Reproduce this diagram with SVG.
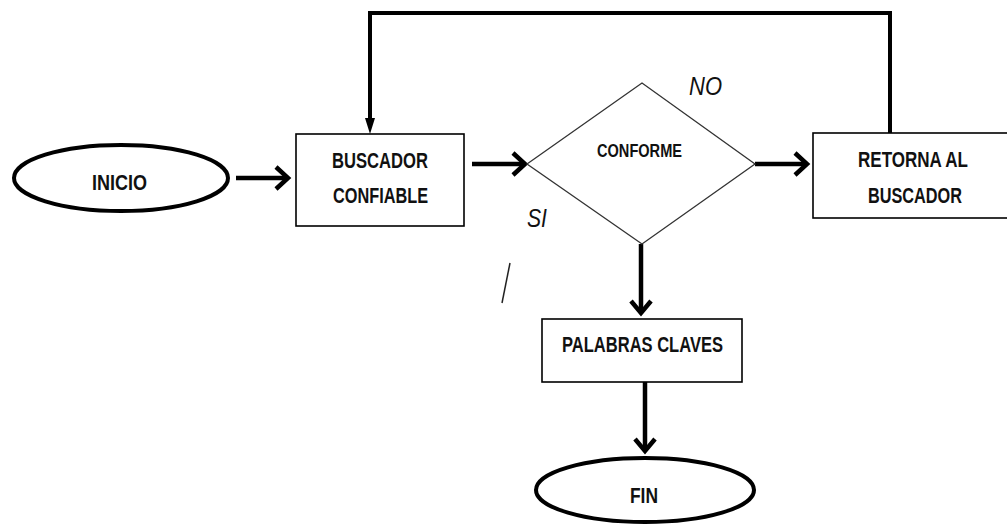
<svg xmlns="http://www.w3.org/2000/svg" width="1007" height="527" viewBox="0 0 1007 527">
<defs>
<style>
.term{fill:#fff;stroke:#000;stroke-width:4}
.box{fill:#fff;stroke:#000;stroke-width:1.6}
.dia{fill:#fff;stroke:#333;stroke-width:1.3}
.lbl{font-family:"Liberation Sans",Arial,sans-serif;font-weight:bold;fill:#111;font-size:21.5px}
.it{font-family:"Liberation Sans",Arial,sans-serif;font-style:italic;fill:#111;font-size:26px}
.ln{fill:none;stroke:#000;stroke-width:4.5}
.hd{fill:none;stroke:#000;stroke-width:4.5;stroke-linejoin:miter}
</style>
</defs>
<rect width="1007" height="527" fill="#fff"/>
<g id="connectors">
<path class="ln" d="M236,178 H286"/>
<path class="hd" d="M276,167 L288,178 L276,189"/>
<path class="ln" d="M472,164 H523"/>
<path class="hd" d="M513,153 L525,164 L513,175"/>
<path class="ln" d="M755,164 H805"/>
<path class="hd" d="M795,153 L807,164 L795,175"/>
<path class="ln" d="M641,244 V311"/>
<path class="hd" d="M631,301 L641,313 L651,301"/>
<path class="ln" d="M645,382 V449"/>
<path class="hd" d="M635,439 L645,451 L655,439"/>
<path fill="none" stroke="#000" stroke-width="4" d="M890,133 V13 H370 V120"/>
<path fill="#000" d="M365,118 L375,118 L370,134 Z"/>
<line x1="510" y1="263" x2="502" y2="303" stroke="#222" stroke-width="1.5"/>
</g>
<g id="inicio">
<ellipse class="term" cx="121" cy="178" rx="107" ry="33"/>
<text class="lbl" x="92" y="190" textLength="55" lengthAdjust="spacingAndGlyphs">INICIO</text>
</g>
<g id="buscador">
<rect class="box" x="296" y="134" width="168" height="92"/>
<text class="lbl" x="332" y="168" textLength="96" lengthAdjust="spacingAndGlyphs">BUSCADOR</text>
<text class="lbl" x="333" y="203" textLength="95" lengthAdjust="spacingAndGlyphs">CONFIABLE</text>
</g>
<g id="conforme">
<polygon class="dia" points="527,164 642,83 755,164 642,244"/>
<text class="lbl" style="font-size:19px" x="597" y="157" textLength="85" lengthAdjust="spacingAndGlyphs">CONFORME</text>
</g>
<g id="labels">
<text class="it" x="689" y="95" textLength="33" lengthAdjust="spacingAndGlyphs">NO</text>
<text class="it" x="527" y="227" textLength="20" lengthAdjust="spacingAndGlyphs">SI</text>
</g>
<g id="retorna">
<rect class="box" x="813" y="133" width="200" height="85"/>
<text class="lbl" x="858" y="167" textLength="110" lengthAdjust="spacingAndGlyphs">RETORNA AL</text>
<text class="lbl" x="868" y="203" textLength="94" lengthAdjust="spacingAndGlyphs">BUSCADOR</text>
</g>
<g id="palabras">
<rect class="box" x="542" y="319" width="200" height="63"/>
<text class="lbl" x="562" y="352" textLength="161" lengthAdjust="spacingAndGlyphs">PALABRAS CLAVES</text>
</g>
<g id="fin">
<ellipse class="term" cx="645" cy="490" rx="109" ry="32"/>
<text class="lbl" x="630" y="503" textLength="28" lengthAdjust="spacingAndGlyphs">FIN</text>
</g>
</svg>
